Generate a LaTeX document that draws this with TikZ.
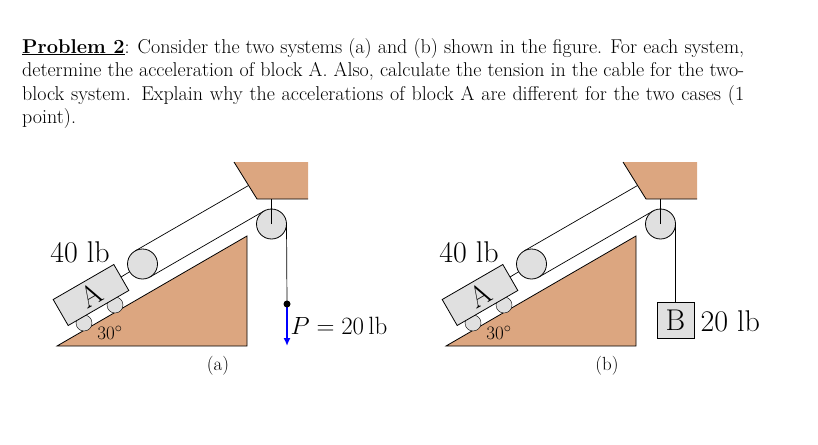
\documentclass[tikz,border=0pt]{standalone}
\usepackage{fontspec}
\usetikzlibrary{arrows.meta}
\definecolor{tan}{RGB}{220,166,128}
\definecolor{pg}{RGB}{224,224,224}
\begin{document}
\begin{tikzpicture}[x=1pt,y=-1pt,
  pulley/.style={draw,fill=pg,thick},
  rope/.style={draw,line width=0.7pt},
  big/.style={font=\fontsize{30}{32}\selectfont},
  mid/.style={font=\fontsize{25}{28}\selectfont},
  sm/.style={font=\fontsize{19}{22}\selectfont}]
\useasboundingbox (0,0) rectangle (818,444);
\node[anchor=north west,inner sep=0pt,text width=722pt,align=justify,font=\fontsize{20}{23.5}\selectfont] (txt) at (22,38)
{\underline{\textbf{Problem 2}}: Consider the two systems (a) and (b) shown in the figure. For each system, determine the acceleration of block A. Also, calculate the tension in the cable for the two-block system. Explain why the accelerations of block A are different for the two cases (1 point).};
\foreach \dx/\lab in {0/a,389/b}{
\begin{scope}[xshift=\dx pt]
  \fill[tan,draw=black,thick] (57,346) -- (247,346) -- (247,236) -- cycle;
  \fill[tan] (234,162) -- (308,162) -- (308,199) -- (257,199) -- cycle;
  \draw[thick] (234,162) -- (257,199) -- (308,199);
  \draw[rope] (271,199) -- (271,224);
  \draw[rope] (135,251) -- (248.5,185.5);
  \draw[rope] (150,277) -- (264,211);
  \draw[rope] (121,277) -- (142.5,264);
  \fill[pg,draw=black] (84,323) circle (8);
  \fill[pg,draw=black] (115,305) circle (8);
  \node[draw,fill=pg,thick,minimum width=70pt,minimum height=30pt,rotate=30,inner sep=0pt,big] (A\lab) at (91,295) {A};
  \node[pulley,circle,minimum size=30pt,inner sep=0pt] (p1\lab) at (142.5,264) {};
  \node[pulley,circle,minimum size=30pt,inner sep=0pt] (p2\lab) at (271.5,224) {};
  \draw[rope] (271.5,224) -- (271.5,209);
  \node[big] (w\lab) at (80,252) {40 lb};
  \node[sm] (ang\lab) at (110,333) {30$^\circ$};
  \node[sm] (cap\lab) at (218,366) {(\lab)};
\end{scope}}
\coordinate (d) at (287,304);
\draw[rope] (286.5,224) -- (d);
\coordinate (dt) at (287,346);
\draw[blue,line width=2pt,-{Latex[length=8pt,width=7pt]}] (d) -- (dt);
\fill (d) circle (3.5);
\node[mid,anchor=west] (P) at (287,326) {$P = 20\,$lb};
\node[draw,fill=pg,thick,minimum width=37pt,minimum height=36pt,inner sep=0pt,big] (B) at (675.5,320) {B};
\draw[rope] (675.5,224) -- (B.north);
\node[big,anchor=west] (Bw) at (697,321) {20 lb};
\end{tikzpicture}
\end{document}
